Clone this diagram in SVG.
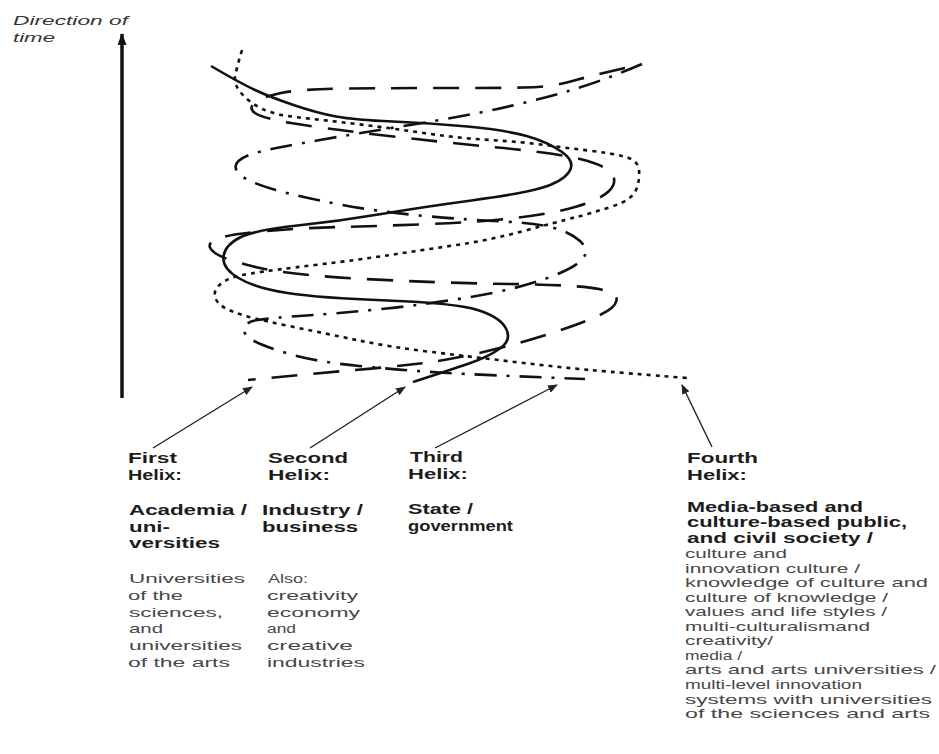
<svg xmlns="http://www.w3.org/2000/svg" width="939" height="754" viewBox="0 0 939 754">
<style>
.strand{fill:none;stroke:#111;stroke-width:2.6;stroke-linecap:butt;stroke-linejoin:round}
.dot{stroke-dasharray:4 5}
.dash{stroke-dasharray:26 16}
.dashdot{stroke-dasharray:22 10 3 10}
.ptr{fill:none;stroke:#222;stroke-width:1.4}
text{font-family:"Liberation Sans",Arial,sans-serif}
.h{font-size:14px;font-weight:bold;fill:#1c1c1c}
.r{font-size:13px;fill:#474747}
.r4{font-size:12px;fill:#474747}
.it{font-size:13px;font-style:italic;fill:#333}
</style>
<defs>
<marker id="ah" viewBox="0 0 10 8" refX="9" refY="4" markerWidth="10" markerHeight="8" markerUnits="userSpaceOnUse" orient="auto">
<path d="M0,0 L10,4 L0,8 Z" fill="#222"/>
</marker>
<marker id="ahBig" viewBox="0 0 12 9" refX="11" refY="4.5" markerWidth="12" markerHeight="9" markerUnits="userSpaceOnUse" orient="auto">
<path d="M0,0 L12,4.5 L0,9 Z" fill="#111"/>
</marker>
</defs>
<rect width="939" height="754" fill="#fff"/>

<g id="time-axis">
<line x1="122" y1="398" x2="122" y2="34" stroke="#111" stroke-width="3.5" marker-end="url(#ahBig)"/>
<text class="it" transform="translate(13,25) scale(1.75,1)" textLength="65.7" lengthAdjust="spacingAndGlyphs">Direction of</text>
<text class="it" transform="translate(13,42) scale(1.75,1)" textLength="24" lengthAdjust="spacingAndGlyphs">time</text>
</g>

<g id="helix-strands">
<path class="strand" d="M211,66 Q240,83 255,90 Q270,97 293.5,105 Q317,113 336,116.5 Q355,120 392.5,121.5 Q430,123 467.5,126.5 Q505,130 526.5,136 Q548,142 562,152 Q576,162 569,172 Q562,182 541,188 Q520,194 471.5,200.5 Q423,207 381.5,214 Q340,221 297.5,225.5 Q255,230 240,237.5 Q225,245 223.5,256.5 Q222,268 238.5,278 Q255,288 287.5,293 Q320,298 387.5,300.5 Q455,303 477.5,310 Q500,317 506,328.5 Q512,340 500,348.5 Q488,357 469,363.5 Q450,370 413,382"/>
<path class="strand dot" d="M242,50 Q236,70 235,77.5 Q234,85 242,94 Q250,103 262.5,109 Q275,115 299,117.5 Q323,120 356.5,124 Q390,128 423.5,133 Q457,138 490,140 Q523,142 545,145 Q567,148 588.5,150.5 Q610,153 624,156.5 Q638,160 639,170 Q640,180 636,190 Q632,200 612,206.5 Q592,213 574.5,217.5 Q557,222 523.5,231 Q490,240 456.5,245 Q423,250 390,255 Q357,260 315,265 Q273,270 250.5,273.5 Q228,277 220,284.5 Q212,292 216,299.5 Q220,307 235,312.5 Q250,318 286.5,325.5 Q323,333 356.5,340 Q390,347 431.5,352 Q473,357 515,362 Q557,367 590,370 Q623,373 687,378"/>
<path class="strand dash" d="M625,68 Q590,76 572.5,81 Q555,86 537.5,87 Q520,88 460,88 Q400,88 350,88.5 Q300,89 281,93 Q262,97 255,102.5 Q248,108 255,113 Q262,118 291,123 Q320,128 380,135 Q440,142 497.5,147.5 Q555,153 580,159 Q605,165 611.5,173.5 Q618,182 609,191 Q600,200 575,207 Q550,214 515,218 Q480,222 430,224 Q380,226 340,227 Q300,228 261,231.5 Q222,235 213.5,240.5 Q205,246 215,253 Q225,260 257.5,267.5 Q290,275 365,279 Q440,283 510,284 Q580,285 599,289 Q618,293 616.5,300.5 Q615,308 600,315 Q585,322 555,332 Q525,342 487.5,351 Q450,360 420,363.5 Q390,367 355,370 Q320,373 248,380"/>
<path class="strand dashdot" d="M642,64 Q600,82 565,92 Q530,102 495,109.5 Q460,117 410,125 Q360,133 320,140 Q280,147 262.5,151 Q245,155 238.5,161 Q232,167 240,174.5 Q248,182 274,189.5 Q300,197 340,204.5 Q380,212 425,216 Q470,220 502.5,221.5 Q535,223 552.5,227.5 Q570,232 580,241 Q590,250 582.5,259 Q575,268 546,278.5 Q517,289 473.5,296.5 Q430,304 386.5,308.5 Q343,313 306.5,315.5 Q270,318 257.5,320 Q245,322 244,328.5 Q243,335 254,341 Q265,347 291.5,354.5 Q318,362 359,366 Q400,370 440,372.5 Q480,375 585,379"/>
</g>

<g id="connectors">
<line class="ptr" x1="153" y1="448" x2="252" y2="387" marker-end="url(#ah)"/>
<line class="ptr" x1="310" y1="448" x2="405" y2="387" marker-end="url(#ah)"/>
<line class="ptr" x1="435" y1="448" x2="557" y2="385" marker-end="url(#ah)"/>
<line class="ptr" x1="712" y1="447" x2="682" y2="385" marker-end="url(#ah)"/>
</g>

<g id="first-helix">
<text class="h" transform="translate(128,463) scale(1.62,1)" textLength="30.2" lengthAdjust="spacingAndGlyphs">First</text>
<text class="h" transform="translate(128,480) scale(1.62,1)" textLength="33.3" lengthAdjust="spacingAndGlyphs">Helix:</text>
<text class="h" transform="translate(129,515) scale(1.62,1)" textLength="72.8" lengthAdjust="spacingAndGlyphs">Academia /</text>
<text class="h" transform="translate(129,532) scale(1.62,1)" textLength="25.3" lengthAdjust="spacingAndGlyphs">uni-</text>
<text class="h" transform="translate(129,548) scale(1.62,1)" textLength="56.2" lengthAdjust="spacingAndGlyphs">versities</text>
<text class="r" transform="translate(129,583) scale(1.66,1)" textLength="69.9" lengthAdjust="spacingAndGlyphs">Universities</text>
<text class="r" transform="translate(128,600) scale(1.66,1)" textLength="33.1" lengthAdjust="spacingAndGlyphs">of the</text>
<text class="r" transform="translate(129,617) scale(1.66,1)" textLength="56.6" lengthAdjust="spacingAndGlyphs">sciences,</text>
<text class="r" transform="translate(129,633) scale(1.66,1)" textLength="20.5" lengthAdjust="spacingAndGlyphs">and</text>
<text class="r" transform="translate(129,650) scale(1.66,1)" textLength="68.1" lengthAdjust="spacingAndGlyphs">universities</text>
<text class="r" transform="translate(128,667) scale(1.66,1)" textLength="61.4" lengthAdjust="spacingAndGlyphs">of the arts</text>
</g>

<g id="second-helix">
<text class="h" transform="translate(268,463) scale(1.62,1)" textLength="49.4" lengthAdjust="spacingAndGlyphs">Second</text>
<text class="h" transform="translate(268,480) scale(1.62,1)" textLength="38.3" lengthAdjust="spacingAndGlyphs">Helix:</text>
<text class="h" transform="translate(262,515) scale(1.62,1)" textLength="62.3" lengthAdjust="spacingAndGlyphs">Industry /</text>
<text class="h" transform="translate(262,532) scale(1.62,1)" textLength="59.3" lengthAdjust="spacingAndGlyphs">business</text>
<text class="r" transform="translate(268,583) scale(1.66,1)" textLength="24.1" lengthAdjust="spacingAndGlyphs">Also:</text>
<text class="r" transform="translate(267,600) scale(1.66,1)" textLength="54.8" lengthAdjust="spacingAndGlyphs">creativity</text>
<text class="r" transform="translate(267,617) scale(1.66,1)" textLength="56" lengthAdjust="spacingAndGlyphs">economy</text>
<text class="r" transform="translate(267,633) scale(1.66,1)" textLength="17.5" lengthAdjust="spacingAndGlyphs">and</text>
<text class="r" transform="translate(267,650) scale(1.66,1)" textLength="51.8" lengthAdjust="spacingAndGlyphs">creative</text>
<text class="r" transform="translate(267,667) scale(1.66,1)" textLength="59" lengthAdjust="spacingAndGlyphs">industries</text>
</g>

<g id="third-helix">
<text class="h" transform="translate(410,462) scale(1.62,1)" textLength="32.7" lengthAdjust="spacingAndGlyphs">Third</text>
<text class="h" transform="translate(408,479) scale(1.62,1)" textLength="37" lengthAdjust="spacingAndGlyphs">Helix:</text>
<text class="h" transform="translate(408,514) scale(1.62,1)" textLength="40.1" lengthAdjust="spacingAndGlyphs">State /</text>
<text class="h" transform="translate(408,531) scale(1.62,1)" textLength="64.8" lengthAdjust="spacingAndGlyphs">government</text>
</g>

<g id="fourth-helix">
<text class="h" transform="translate(687,463) scale(1.62,1)" textLength="43.8" lengthAdjust="spacingAndGlyphs">Fourth</text>
<text class="h" transform="translate(687,480) scale(1.62,1)" textLength="37" lengthAdjust="spacingAndGlyphs">Helix:</text>
<text class="h" transform="translate(687,512) scale(1.62,1)" textLength="108.6" lengthAdjust="spacingAndGlyphs">Media-based and</text>
<text class="h" transform="translate(687,527) scale(1.62,1)" textLength="135.8" lengthAdjust="spacingAndGlyphs">culture-based public,</text>
<text class="h" transform="translate(687,543) scale(1.62,1)" textLength="114.8" lengthAdjust="spacingAndGlyphs">and civil society /</text>
<text class="r4" transform="translate(685,558) scale(1.8,1)" textLength="56.7" lengthAdjust="spacingAndGlyphs">culture and</text>
<text class="r4" transform="translate(685,572.5) scale(1.8,1)" textLength="97.2" lengthAdjust="spacingAndGlyphs">innovation culture /</text>
<text class="r4" transform="translate(685,587) scale(1.8,1)" textLength="135" lengthAdjust="spacingAndGlyphs">knowledge of culture and</text>
<text class="r4" transform="translate(685,601.7) scale(1.8,1)" textLength="112.8" lengthAdjust="spacingAndGlyphs">culture of knowledge /</text>
<text class="r4" transform="translate(685,616.2) scale(1.8,1)" textLength="112.2" lengthAdjust="spacingAndGlyphs">values and life styles /</text>
<text class="r4" transform="translate(685,630.8) scale(1.8,1)" textLength="102.8" lengthAdjust="spacingAndGlyphs">multi-culturalismand</text>
<text class="r4" transform="translate(685,645.3) scale(1.8,1)" textLength="48.9" lengthAdjust="spacingAndGlyphs">creativity/</text>
<text class="r4" transform="translate(685,659.9) scale(1.8,1)" textLength="31.7" lengthAdjust="spacingAndGlyphs">media /</text>
<text class="r4" transform="translate(685,674.4) scale(1.8,1)" textLength="139.4" lengthAdjust="spacingAndGlyphs">arts and arts universities /</text>
<text class="r4" transform="translate(685,689) scale(1.8,1)" textLength="98.3" lengthAdjust="spacingAndGlyphs">multi-level innovation</text>
<text class="r4" transform="translate(685,703.5) scale(1.8,1)" textLength="137.2" lengthAdjust="spacingAndGlyphs">systems with universities</text>
<text class="r4" transform="translate(685,718) scale(1.8,1)" textLength="136.1" lengthAdjust="spacingAndGlyphs">of the sciences and arts</text>
</g>
</svg>
